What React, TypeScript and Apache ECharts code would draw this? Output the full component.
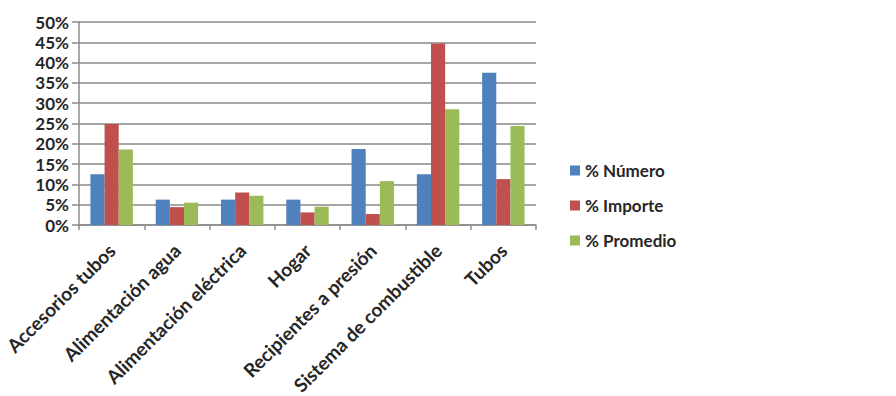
import React, { useEffect, useRef } from "react";
import * as echarts from "echarts";

const categories = [
  "Accesorios tubos",
  "Alimentación agua",
  "Alimentación eléctrica",
  "Hogar",
  "Recipientes a presión",
  "Sistema de combustible",
  "Tubos",
];
const numero = [12.5, 6.25, 6.25, 6.25, 18.75, 12.5, 37.5];
const importe = [24.9, 4.4, 8.0, 3.1, 2.7, 44.7, 11.3];
const promedio = [18.6, 5.5, 7.2, 4.5, 10.8, 28.5, 24.4];
const seriesNames = ["% Número", "% Importe", "% Promedio"];
const colors = ["#4F81BD", "#C0504D", "#9BBB59"];

const FONT = "Lato, 'Open Sans', sans-serif";

export default function App() {
  const ref = useRef<HTMLDivElement>(null);
  useEffect(() => {
    const chart = echarts.init(ref.current!, null, { renderer: "svg" });
    const data = [numero, importe, promedio];
    chart.setOption({
      animation: false,
      backgroundColor: "#ffffff",
      color: colors,
      grid: {
        left: 79,
        right: 360,
        top: 22,
        bottom: 171,
        containLabel: false,
        outerBoundsMode: "none",
      },
      legend: {
        orient: "vertical",
        left: 565,
        top: 157,
        itemWidth: 10,
        itemHeight: 10,
        itemGap: 18,
        icon: "rect",
        data: seriesNames,
        textStyle: { fontFamily: FONT, fontWeight: "bold", fontSize: 17, color: "#262626" },
      },
      xAxis: {
        type: "category",
        data: categories,
        boundaryGap: true,
        axisLine: { show: true, lineStyle: { color: "#8c8c8c", width: 1.5 } },
        axisTick: { show: true, length: 5, alignWithLabel: false, lineStyle: { color: "#8c8c8c", width: 1.5 } },
        axisLabel: {
          interval: 0,
          rotate: 45,
          margin: 22,
          fontFamily: FONT,
          fontWeight: "bold",
          fontSize: 19,
          color: "#262626",
        },
      },
      yAxis: {
        type: "value",
        min: 0,
        max: 50,
        interval: 5,
        axisLine: { show: true, lineStyle: { color: "#8c8c8c", width: 1.5 } },
        axisTick: { show: true, length: 7, lineStyle: { color: "#8c8c8c", width: 1.5 } },
        splitLine: { show: true, lineStyle: { color: "#a6a6a6", width: 2 } },
        axisLabel: {
          margin: 10,
          formatter: "{value}%",
          fontFamily: FONT,
          fontWeight: "bold",
          fontSize: 17,
          color: "#262626",
        },
      },
      series: seriesNames.map((name, i) => ({
        name,
        type: "bar",
        data: data[i],
        barGap: "0%",
        barCategoryGap: "35%",
        itemStyle: { color: colors[i] },
      })),
    });
    return () => chart.dispose();
  }, []);
  return (
    <div
      ref={ref}
      style={{ position: "absolute", left: 0, top: 0, width: 896, height: 396 }}
    />
  );
}
